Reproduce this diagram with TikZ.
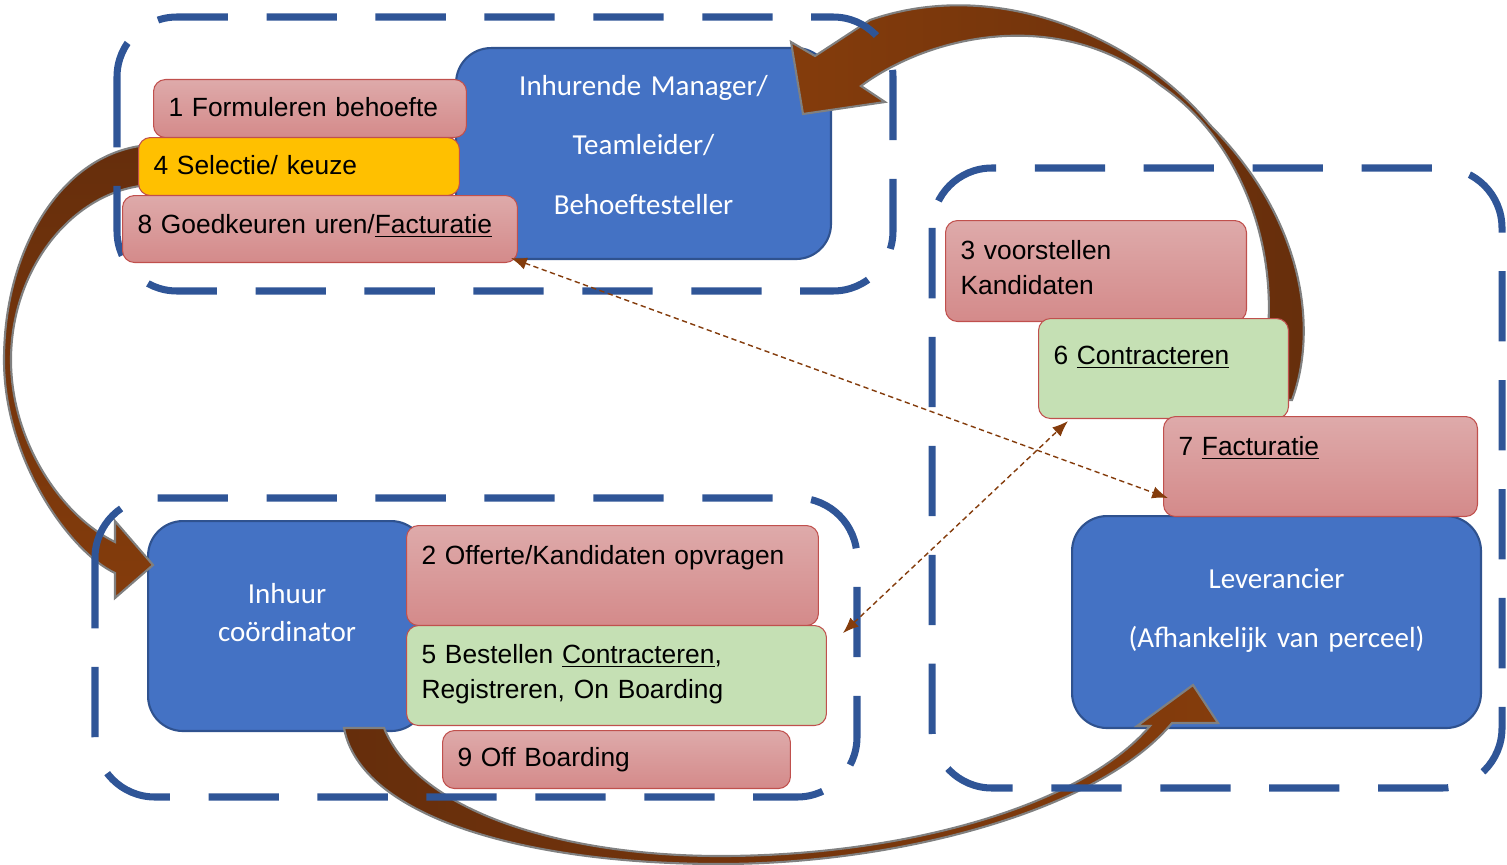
\documentclass[tikz,border=0pt]{standalone}
\usepackage{fontspec}
\setmainfont{Liberation Sans}
\newfontfamily\calibri{Carlito}
\usetikzlibrary{arrows.meta}
\definecolor{boxblue}{HTML}{4472C4}
\definecolor{boxblueline}{HTML}{2F528F}
\definecolor{groupblue}{HTML}{2F5597}
\definecolor{pinktop}{HTML}{DEAAAA}
\definecolor{pinkbot}{HTML}{D48A8A}
\definecolor{pinkline}{HTML}{C0504D}
\definecolor{keuzeyellow}{HTML}{FFC000}
\definecolor{contractgreen}{HTML}{C5E0B4}
\definecolor{flowbrown}{HTML}{843C0C}
\definecolor{flowdark}{HTML}{662E0C}
\definecolor{flowedge}{HTML}{808080}

\begin{document}
\begin{tikzpicture}[
  x=0.02cm, y=-0.02cm,
  actor/.style={rectangle, draw=boxblueline, line width=1.2pt, fill=boxblue,
                rounded corners=0.7cm, anchor=north west, inner xsep=0.2cm,
                inner ysep=0pt, align=center, text=white,
                font=\calibri\fontsize{16.5pt}{34pt}\selectfont},
  task/.style={rectangle, draw=pinkline, line width=0.6pt, rounded corners=0.24cm,
               anchor=north west, inner xsep=0.3cm, inner ysep=0pt, align=left,
               font=\fontsize{15pt}{20pt}\selectfont},
  taskpink/.style={task, top color=pinktop, bottom color=pinkbot},
  taskyellow/.style={task, fill=keuzeyellow},
  taskgreen/.style={task, fill=contractgreen},
  groupbox/.style={draw=groupblue, line width=4pt, dash pattern=on 40pt off 22pt,
                   rounded corners=1.2cm},
  flowarrow/.style={draw=flowedge, line width=1.2pt},
  link/.style={draw=flowbrown, line width=0.8pt, dash pattern=on 3pt off 2pt,
               {Latex[length=9pt,width=7pt]}-{Latex[length=9pt,width=7pt]}}
]
\useasboundingbox (0,0) rectangle (1507,865);

% Roles
\node[actor, text width=7.1cm, text height=0.94cm, text depth=3.28cm] (manager) at (455,47)
  {Inhurende Manager/\\Teamleider/\\Behoeftesteller};
\node[actor, text width=5.16cm, text height=1.64cm, text depth=2.56cm,
      font=\calibri\fontsize{16.5pt}{22pt}\selectfont] (coord) at (147,520)
  {Inhuur\\coördinator};
\node[actor, text width=7.78cm, text height=1.44cm, text depth=2.8cm] (supplier) at (1071,515)
  {Leverancier\\(Afhankelijk van perceel)};

% Big process arrows
\path[flowarrow, top color=flowdark, bottom color=flowbrown]
  (140,146) .. controls (60,158) and (4,250) .. (4,360)
  .. controls (4,460) and (70,552) .. (115,573)
  -- (115,598) -- (153,565) -- (115,521) -- (115,542)
  .. controls (60,515) and (11,440) .. (11,360)
  .. controls (11,270) and (70,196) .. (140,186) -- cycle;
\path[flowarrow, left color=flowbrown, right color=flowdark]
  (1292,400) .. controls (1318,330) and (1305,220) .. (1210,125)
  .. controls (1140,40) and (1000,-25) .. (870,20)
  -- (815,56) -- (791,42) -- (803,114) -- (885,102) -- (861,86)
  .. controls (930,35) and (1060,5) .. (1160,85)
  .. controls (1240,140) and (1275,240) .. (1268,330) -- (1266,400) -- cycle;
\path[flowarrow, left color=flowdark, right color=flowbrown]
  (344,728) .. controls (360,815) and (520,864) .. (720,864)
  .. controls (900,864) and (1100,810) .. (1172,723)
  -- (1218,723) -- (1193,685) -- (1137,726) -- (1150,726)
  .. controls (1080,808) and (900,856) .. (720,856)
  .. controls (570,856) and (420,815) .. (384,728) -- cycle;

% Groups
\draw[groupbox] (117,17) rectangle (893,291);
\draw[groupbox] (932,168) rectangle (1502,788);
\draw[groupbox] (95,498) rectangle (857,797);

% Steps
\node[taskpink, text width=5.66cm, text height=0.74cm, text depth=0.42cm] (b1) at (153,79)
  {1 Formuleren behoefte};
\node[taskyellow, text width=5.82cm, text height=0.74cm, text depth=0.42cm] (b4) at (138,137)
  {4 Selectie/ keuze};
\node[taskpink, text width=7.3cm, text height=0.76cm, text depth=0.58cm] (b8) at (122,195)
  {8 Goedkeuren uren/\underline{Facturatie}};
\node[taskpink, text width=5.42cm, text height=0.78cm, text depth=1.24cm] (b3) at (945,220)
  {3 voorstellen\\Kandidaten};
\node[taskgreen, text width=4.4cm, text height=0.92cm, text depth=1.08cm] (b6) at (1038,318)
  {6 \underline{Contracteren}};
\node[taskpink, text width=5.68cm, text height=0.78cm, text depth=1.22cm] (b7) at (1163,416)
  {7 \underline{Facturatie}};
\node[taskpink, text width=7.64cm, text height=0.78cm, text depth=1.22cm] (b2) at (406,525)
  {2 Offerte/Kandidaten opvragen};
\node[taskgreen, text width=7.8cm, text height=0.76cm, text depth=1.24cm] (b5) at (406,625)
  {5 Bestellen \underline{Contracteren},\\Registreren, On Boarding};
\node[taskpink, text width=6.36cm, text height=0.72cm, text depth=0.44cm] (b9) at (442,730)
  {9 Off Boarding};

% Cross links
\draw[link] ([xshift=-0.14cm,yshift=0.1cm]b8.south east) -- ([xshift=0.1cm,yshift=0.38cm]b7.south west);
\draw[link] ([xshift=0.32cm,yshift=-0.16cm]b5.north east) -- ([xshift=0.6cm,yshift=-0.04cm]b6.south west);
\end{tikzpicture}
\end{document}
